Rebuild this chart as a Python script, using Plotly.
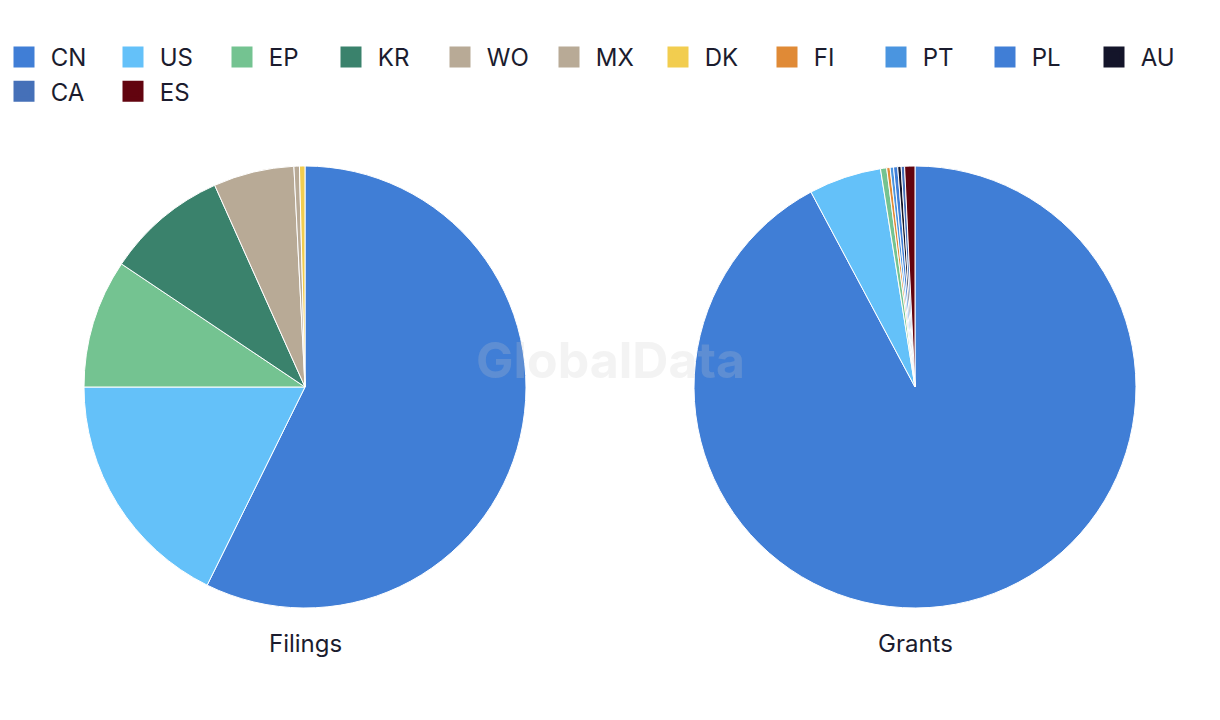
import plotly.graph_objects as go

countries = ["CN", "US", "EP", "KR", "WO", "MX", "DK", "FI", "PT", "PL", "AU", "CA", "ES"]
colors = ["#407ED6", "#64C1F9", "#74C391", "#3A826C", "#B8AA96", "#B8AA96", "#F2CD4F",
          "#E08A36", "#4A95E0", "#407ED6", "#14152A", "#4570B8", "#62040F"]
filings = [57.3, 17.7, 9.4, 8.9, 5.9, 0.4, 0.4, 0, 0, 0, 0, 0, 0]
grants = [92.2, 5.3, 0.45, 0, 0, 0, 0, 0.25, 0.25, 0.3, 0.25, 0.25, 0.75]
titles = ["Filings", "Grants"]

color_map = dict(zip(countries, colors))

def pick(vals):
    labs = [c for c, v in zip(countries, vals) if v > 0]
    vs = [v for v in vals if v > 0]
    return labs, vs

W, H = 1220, 720
OFF = 8
FONT = "Inter"
TXT = "#1b1c2e"
fig = go.Figure()
centers = [305 - OFF, 915 - OFF]
R = 221
cy = 387 - OFF
for i, vals in enumerate([filings, grants]):
    labs, vs = pick(vals)
    cx = centers[i]
    fig.add_trace(go.Pie(
        labels=labs, values=vs, sort=False, direction="clockwise", rotation=0,
        marker=dict(colors=[color_map[l] for l in labs], line=dict(color="white", width=1)),
        textinfo="none", hoverinfo="label+percent", name=titles[i], showlegend=False,
        domain=dict(x=[(cx - R) / W, (cx + R) / W], y=[1 - (cy + R) / H, 1 - (cy - R) / H]),
    ))
    fig.add_annotation(text=titles[i], x=cx / W, y=1 - (643 - OFF) / H, xref="paper", yref="paper",
                       xanchor="center", yanchor="middle",
                       showarrow=False, font=dict(size=24, color=TXT, family=FONT))

# legend entries (square swatches)
NB = "\u00a0"
for c in countries:
    fig.add_trace(go.Scatter(
        x=[None], y=[None], mode="markers", name=NB + c, showlegend=True, hoverinfo="skip",
        marker=dict(symbol="square", size=20, color=color_map[c],
                    line=dict(color=color_map[c], width=8)),
    ))

fig.add_annotation(text="<b>GlobalData</b>", x=(610 - OFF) / W, y=1 - (360 - OFF) / H,
                   xref="paper", yref="paper", xanchor="center", yanchor="middle",
                   showarrow=False, font=dict(size=50, color="rgba(200,200,200,0.22)", family=FONT))

fig.update_layout(
    width=W, height=H, margin=dict(l=0, r=0, t=0, b=0, autoexpand=False),
    paper_bgcolor="white", plot_bgcolor="white",
    font=dict(family=FONT, color=TXT),
    xaxis=dict(visible=False), yaxis=dict(visible=False),
    legend=dict(orientation="h", x=0, y=1 - 27 / H, xanchor="left", yanchor="top",
                font=dict(size=24, color=TXT, family=FONT), indentation=-4,
                entrywidth=68, entrywidthmode="pixels",
                itemsizing="trace", traceorder="normal", itemclick=False),
)
fig.write_html("out.html")
